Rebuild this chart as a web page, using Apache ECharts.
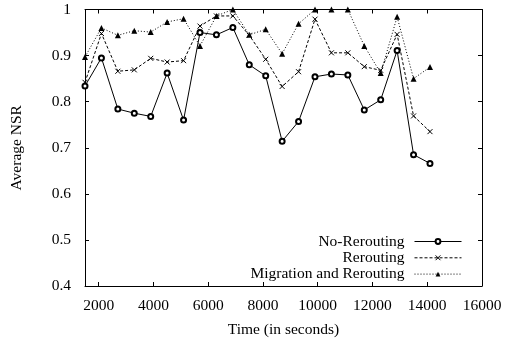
<!DOCTYPE html>
<html><head><meta charset="utf-8">
<script src="https://cdn.jsdelivr.net/npm/echarts@6/dist/echarts.min.js"></script>
<style>html,body{margin:0;padding:0;background:#fff}#c{width:505px;height:343px}</style>
</head><body><div id="c"></div>
<script>
const times = [1500,2100,2700,3300,3900,4500,5100,5700,6300,6900,7500,8100,8700,9300,9900,10500,11100,11700,12300,12900,13500,14100];
const noRerouting = [0.834,0.895,0.784,0.775,0.768,0.862,0.760,0.950,0.945,0.961,0.880,0.856,0.714,0.757,0.854,0.860,0.858,0.782,0.804,0.911,0.685,0.666];
const rerouting = [0.842,0.948,0.866,0.869,0.894,0.886,0.889,0.964,0.986,0.986,0.944,0.892,0.833,0.865,0.979,0.906,0.906,0.876,0.868,0.946,0.769,0.735];
const migration = [0.897,0.960,0.944,0.954,0.951,0.973,0.980,0.921,0.986,1.0,0.945,0.957,0.904,0.969,1.0,1.0,1.0,0.921,0.862,0.984,0.850,0.875];
const xTicks = [2000,4000,6000,8000,10000,12000,14000,16000];
const seriesNames = ['No-Rerouting','Rerouting','Migration and Rerouting'];

const font = 'Liberation Serif';
const fs = 15.5;
const chart = echarts.init(document.getElementById('c'), null, {renderer:'canvas'});
const zip = arr => times.map((t,i)=>[t,arr[i]]);
const crossPath = 'path://M0,0L10,10M10,0L0,10';
function mkLegend(name, top){
  return {data:[name], right:43, top:top, orient:'vertical', align:'right', padding:0,
    itemWidth:47, itemHeight:6, itemGap:0, selectedMode:false,
    lineStyle:{width:1}, itemStyle:{borderWidth:1},
    textStyle:{fontFamily:font, fontSize:fs, color:'#000', padding:[0,5,0,0]}};
}
const axisCommon = {
  axisLine:{show:true, onZero:false, lineStyle:{color:'#000', width:1}},
  axisTick:{show:true, inside:true, length:4, lineStyle:{color:'#000'}},
  splitLine:{show:false}
};
chart.setOption({
  animation:false,
  backgroundColor:'#fff',
  grid:{left:85, right:23, top:9.5, bottom:56.3},
  legend:[mkLegend(seriesNames[0],233.5), mkLegend(seriesNames[1],249.8), mkLegend(seriesNames[2],266.1)],
  xAxis:[
    Object.assign({type:'value', min:1500, max:16000, position:'bottom',
      name:'Time (in seconds)', nameLocation:'middle', nameGap:36,
      nameTextStyle:{fontFamily:font, fontSize:fs, color:'#000'},
      axisLabel:{customValues:xTicks, formatter:v=>String(v), fontFamily:font, fontSize:fs, color:'#000', margin:12}},
      axisCommon, {axisTick:Object.assign({}, axisCommon.axisTick, {customValues:xTicks})}),
    Object.assign({type:'value', min:1500, max:16000, position:'top', axisLabel:{show:false}},
      axisCommon, {axisTick:Object.assign({}, axisCommon.axisTick, {customValues:xTicks})})
  ],
  yAxis:[
    Object.assign({type:'value', min:0.4, max:1, interval:0.1, position:'left',
      name:'Average NSR', nameLocation:'middle', nameGap:60,
      nameTextStyle:{fontFamily:font, fontSize:fs, color:'#000'},
      axisLabel:{fontFamily:font, fontSize:fs, color:'#000', margin:14}}, axisCommon),
    Object.assign({type:'value', min:0.4, max:1, interval:0.1, position:'right', axisLabel:{show:false}}, axisCommon)
  ],
  series:[
    {name:seriesNames[0], type:'line', data:zip(noRerouting), symbol:'emptyCircle', symbolSize:5,
      lineStyle:{color:'#000', width:1, type:'solid'}, itemStyle:{color:'#000', borderColor:'#000', borderWidth:0.8}, z:3},
    {name:seriesNames[1], type:'line', data:zip(rerouting), symbol:crossPath, symbolSize:5,
      lineStyle:{color:'#000', width:1, type:[3,2]}, itemStyle:{color:'#000', borderColor:'#000', borderWidth:1}},
    {name:seriesNames[2], type:'line', data:zip(migration), symbol:'triangle', symbolSize:6,
      lineStyle:{color:'#000', width:1, type:[1,2]}, itemStyle:{color:'#000'}}
  ]
});
</script></body></html>
